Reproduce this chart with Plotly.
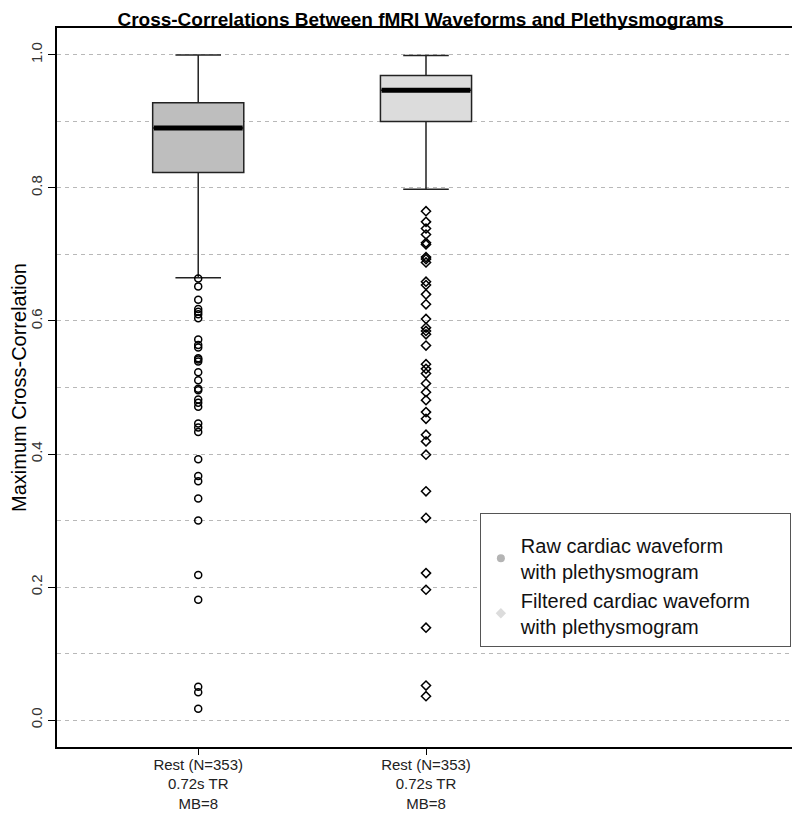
import plotly.graph_objects as go

# ---- data ----
positions = [1, 2]
tick_labels = ["Rest (N=353)<br>0.72s TR<br>MB=8", "Rest (N=353)<br>0.72s TR<br>MB=8"]
series_names = ["Raw cardiac waveform<br>with plethysmogram",
                "Filtered cardiac waveform\u00a0\u00a0\u00a0\u00a0\u00a0\u00a0<br>with plethysmogram"]
q1 = [0.823, 0.900]
median = [0.890, 0.947]
q3 = [0.928, 0.969]
lower_whisker = [0.665, 0.798]
upper_whisker = [1.000, 0.999]

raw_outliers = [0.664, 0.652, 0.632, 0.618, 0.614, 0.610, 0.604, 0.572, 0.564, 0.560,
                0.544, 0.542, 0.539, 0.523, 0.511, 0.498, 0.496, 0.482, 0.477, 0.471,
                0.446, 0.440, 0.433, 0.392, 0.367, 0.359, 0.333, 0.300, 0.218, 0.181,
                0.050, 0.042, 0.017]
filt_outliers = [0.765, 0.749, 0.739, 0.730, 0.7175, 0.715, 0.696, 0.693, 0.688, 0.659,
                 0.654, 0.640, 0.625, 0.603, 0.590, 0.585, 0.580, 0.563, 0.535, 0.528,
                 0.521, 0.506, 0.493, 0.481, 0.463, 0.453, 0.429, 0.419, 0.399, 0.344,
                 0.304, 0.221, 0.196, 0.139, 0.052, 0.036]

fill_colors = ["#bebebe", "#dcdcdc"]
legend_marker_colors = ["#b4b4b4", "#dcdcdc"]
outlier_symbols = ["circle-open", "diamond-open"]
legend_symbols = ["circle", "diamond"]
box_width = 0.4

fig = go.Figure()
outliers = [raw_outliers, filt_outliers]
for i in range(2):
    fig.add_trace(go.Box(
        x=[positions[i]], q1=[q1[i]], median=[median[i]], q3=[q3[i]],
        lowerfence=[lower_whisker[i]], upperfence=[upper_whisker[i]],
        width=box_width, whiskerwidth=0.5, boxpoints=False,
        fillcolor=fill_colors[i], line=dict(color="#222222", width=1.5),
        showlegend=False, hoverinfo="skip"))
    # thick median line
    fig.add_trace(go.Scatter(
        x=[positions[i] - box_width / 2 + 0.005, positions[i] + box_width / 2 - 0.005],
        y=[median[i], median[i]], mode="lines",
        line=dict(color="black", width=5), showlegend=False, hoverinfo="skip"))
    fig.add_trace(go.Scatter(
        x=[positions[i]] * len(outliers[i]), y=outliers[i], mode="markers",
        marker=dict(symbol=outlier_symbols[i], size=7,
                    color="black", line=dict(width=1.5, color="black")),
        showlegend=False, hoverinfo="skip"))

for i in range(2):
    fig.add_trace(go.Scatter(
        x=[None], y=[None], mode="markers", name=series_names[i],
        marker=dict(symbol=legend_symbols[i], size=8, color=legend_marker_colors[i])))

# the page body has an 8px margin, so the figure is sized to fit the 800x813 window
fig.update_layout(
    width=792, height=805,
    margin=dict(l=49, r=5, t=20, b=66),
    paper_bgcolor="white", plot_bgcolor="white",
    font=dict(family="Liberation Sans, Arial, sans-serif", color="black"),
    title=dict(text="<b>Cross-Correlations Between fMRI Waveforms and Plethysmograms</b>",
               x=0.521, xanchor="center", y=0.9863, yanchor="middle",
               pad=dict(t=0, b=0),
               font=dict(size=19, color="black")),
    xaxis=dict(range=[0.38, 3.62], tickvals=positions, ticktext=tick_labels,
               showgrid=False, zeroline=False, ticks="outside", ticklen=6,
               ticklabelstandoff=-3,
               tickcolor="black", tickfont=dict(size=15, color="#222222"),
               automargin=False,
               showline=True, linecolor="black", linewidth=1.5, mirror=True),
    yaxis=dict(range=[-0.0404, 1.0404], tickvals=[0, 0.2, 0.4, 0.6, 0.8, 1.0],
               ticktext=["0.0", "0.2", "0.4", "0.6", "0.8", "1.0"],
               tickangle=-90, ticks="outside", ticklen=7, tickcolor="black",
               tickfont=dict(size=15, color="#333333"),
               showgrid=True, gridcolor="#b8b8b8", griddash="4px,4px", gridwidth=1,
               minor=dict(dtick=0.1, tick0=0, showgrid=True, gridcolor="#b8b8b8",
                          griddash="4px,4px", gridwidth=1),
               zeroline=False, automargin=False,
               showline=True, linecolor="black", linewidth=1.5, mirror=True,
               title=dict(text="Maximum Cross-Correlation", font=dict(size=20),
                          standoff=12)),
    legend=dict(x=0.573, y=0.3254, xanchor="left", yanchor="top",
                bordercolor="#555555", borderwidth=1, bgcolor="white",
                font=dict(size=20, color="#111111"),
                title=dict(text=" ", font=dict(size=9)),
                itemwidth=30, tracegroupgap=0),
)

fig.write_html("out.html")
